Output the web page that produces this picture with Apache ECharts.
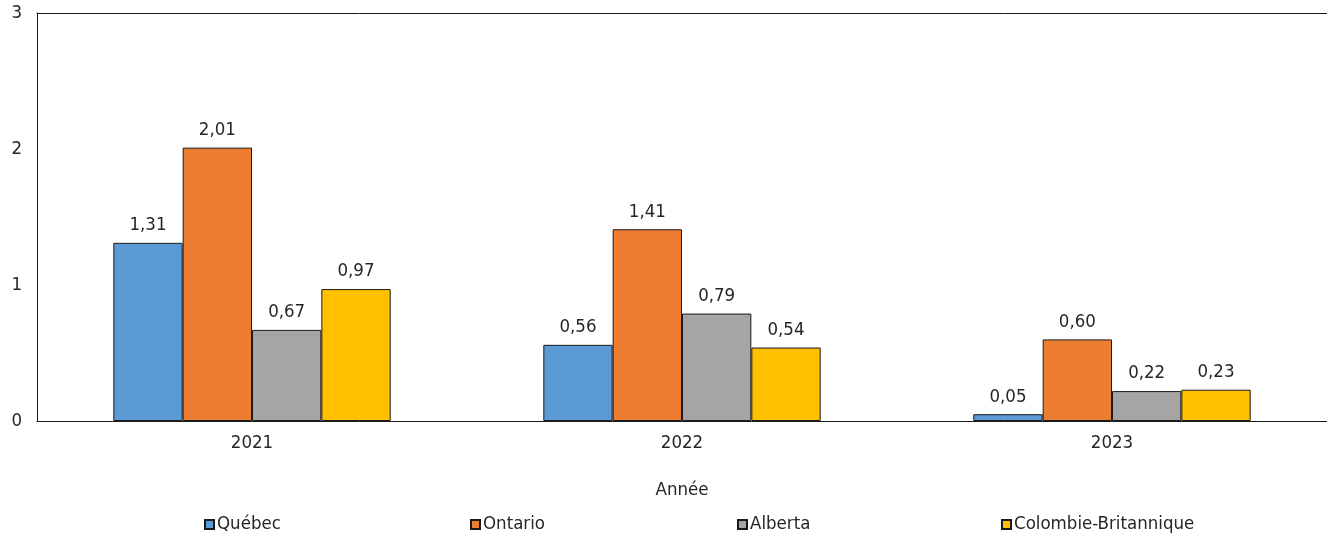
<!DOCTYPE html>
<html>
<head>
<meta charset="utf-8">
<script src="https://cdn.jsdelivr.net/npm/echarts@6/dist/echarts.min.js"></script>
<style>
  html, body { margin: 0; padding: 0; background: #fff; }
  #chart { width: 1327px; height: 533px; }
</style>
</head>
<body>
<div id="chart"></div>
<script>
var years = ['2021', '2022', '2023'];
var seriesNames = ['Québec', 'Ontario', 'Alberta', 'Colombie-Britannique'];
var quebec = [1.31, 0.56, 0.05];
var ontario = [2.01, 1.41, 0.60];
var alberta = [0.67, 0.79, 0.22];
var colombie = [0.97, 0.54, 0.23];
var yTicks = [0, 1, 2, 3];

var colors = ['#5B9BD5', '#ED7D31', '#A5A5A5', '#FFC000'];
var values = [quebec, ontario, alberta, colombie];
var font = "'Liberation Sans Narrow', 'Arial Narrow', 'DejaVu Sans Condensed', sans-serif";
var fontSize = 18.5;
var textColor = '#262626';

var chart = echarts.init(document.getElementById('chart'));

var series = seriesNames.map(function (name, i) {
  return {
    name: name,
    type: 'bar',
    data: values[i],
    barGap: '0%',
    barCategoryGap: '35.5%',
    itemStyle: {
      color: colors[i],
      borderColor: '#1a1a1a',
      borderWidth: 1
    },
    label: {
      show: true,
      position: 'top',
      distance: 8,
      fontFamily: font,
      fontSize: fontSize,
      color: textColor,
      formatter: function (p) {
        return p.value.toFixed(2).replace('.', ',');
      }
    }
  };
});

var legendLefts = [199, 465, 732, 996];
var legends = seriesNames.map(function (name, i) {
  return {
    data: [name],
    left: legendLefts[i],
    top: 510,
    icon: 'rect',
    itemWidth: 9,
    itemHeight: 9,
    selectedMode: false,
    textStyle: {
      fontFamily: font,
      fontSize: fontSize,
      color: textColor,
      padding: [0, 0, 0, -2]
    }
  };
});

chart.setOption({
  animation: false,
  legend: legends,
  grid: {
    left: 37,
    right: 0,
    top: 13,
    bottom: 112
  },
  xAxis: [
    {
      type: 'category',
      data: years,
      name: 'Année',
      nameLocation: 'middle',
      nameGap: 60,
      nameTextStyle: {
        fontFamily: font,
        fontSize: fontSize,
        color: textColor
      },
      axisLine: { lineStyle: { color: '#1a1a1a', width: 1 } },
      axisTick: { show: false },
      axisLabel: {
        margin: 13,
        fontFamily: font,
        fontSize: fontSize,
        color: textColor
      }
    },
    {
      type: 'category',
      data: years,
      position: 'top',
      axisLine: { lineStyle: { color: '#1a1a1a', width: 1 } },
      axisTick: { show: false },
      axisLabel: { show: false }
    }
  ],
  yAxis: {
    type: 'value',
    min: yTicks[0],
    max: yTicks[yTicks.length - 1],
    interval: 1,
    axisLine: { show: true, lineStyle: { color: '#1a1a1a', width: 1 } },
    axisTick: { show: false },
    splitLine: { show: false },
    axisLabel: {
      margin: 15,
      fontFamily: font,
      fontSize: fontSize,
      color: textColor
    }
  },
  series: series
});
</script>
</body>
</html>
